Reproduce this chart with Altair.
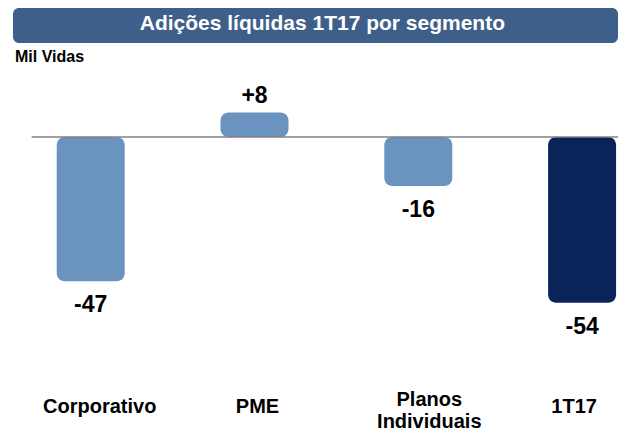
import altair as alt
import pandas as pd

categories = ["Corporativo", "PME", "Planos Individuais", "1T17"]
values = [-47, 8, -16, -54]
labels = ["-47", "+8", "-16", "-54"]
kinds = ["seg", "seg", "seg", "total"]
axis_labels = ["Corporativo", "PME", "Planos|Individuais", "1T17"]
title_text = ["Adições líquidas 1T17 por segmento"]
unit_label = ["Mil Vidas"]

df = pd.DataFrame({"cat": categories, "val": values, "lab": labels, "kind": kinds,
                   "axl": axis_labels})

W, H = 615, 424
FONT = "Liberation Sans"
XMIN, XMAX = -0.4745, 3.2192
YMIN, YMAX = -96.09, 42.02

base = alt.Chart(df).transform_window(idx="row_number()").transform_calculate(
    i="datum.idx - 1", zero="0", ly="-87.95", ly2="-85.67")

x = alt.X("i:Q", axis=None, scale=alt.Scale(domain=[XMIN, XMAX], nice=False, zero=False))
y = alt.Y("val:Q", axis=None, scale=alt.Scale(domain=[YMIN, YMAX], nice=False, zero=False))

deco = alt.Chart(pd.DataFrame({"t": title_text, "u": unit_label})).transform_calculate(
    bx=str(XMIN), bx2=str(XMAX), by=str(YMAX), by2="30.62",
    tx="1.4144", ty="36.81", ux="-0.4625", uy="26.22", rx="-0.3604", rz="0"
)

banner = deco.mark_rect(color="#3f5f8b", cornerRadius=6).encode(
    x=alt.X("bx:Q", axis=None), x2="bx2:Q", y=alt.Y("by:Q", axis=None), y2="by2:Q"
)

banner_text = deco.mark_text(
    font=FONT, fontSize=21, fontWeight="bold", color="white", baseline="middle", align="center"
).encode(x=alt.X("tx:Q", axis=None), y=alt.Y("ty:Q", axis=None), text="t:N")

unit_text = deco.mark_text(
    font=FONT, fontSize=16, fontWeight="bold", color="black", baseline="middle", align="left"
).encode(x=alt.X("ux:Q", axis=None), y=alt.Y("uy:Q", axis=None), text="u:N")

rule = deco.mark_rule(color="#808080", strokeWidth=1.6).encode(
    x=alt.X("rx:Q", axis=None), x2="bx2:Q", y=alt.Y("rz:Q", axis=None)
)

bars = base.mark_bar(size=68, cornerRadius=8).encode(
    x=x, y=y, y2="zero:Q",
    color=alt.Color("kind:N", scale=alt.Scale(domain=["seg", "total"],
                                              range=["#6b93c0", "#0a245a"]), legend=None),
)

pos_lab = base.transform_filter("datum.val >= 0").mark_text(
    font=FONT, fontSize=23, fontWeight="bold", color="black", baseline="middle", dy=-16
).encode(x=x, y=y, text="lab:N")

neg_lab = base.transform_filter("datum.val < 0").mark_text(
    font=FONT, fontSize=23, fontWeight="bold", color="black", baseline="middle", dy=24
).encode(x=x, y=y, text="lab:N")


def cat_label(name, dx, yfield):
    return base.transform_filter(alt.datum.cat == name).mark_text(
        font=FONT, fontSize=20, fontWeight="bold", color="black", baseline="middle",
        lineHeight=22, lineBreak="|", dx=dx
    ).encode(x=x, y=alt.Y(yfield + ":Q", axis=None), text="axl:N")


cat_layers = [
    cat_label("Corporativo", 9, "ly"),
    cat_label("PME", 3, "ly"),
    cat_label("Planos Individuais", 11, "ly2"),
    cat_label("1T17", -8, "ly"),
]

chart = alt.layer(banner, banner_text, unit_text, bars, rule, pos_lab, neg_lab,
                  *cat_layers).properties(
    width=W, height=H, padding=0
).configure_view(strokeWidth=0)

chart.save("out.html", embed_options={"renderer": "svg", "actions": False})
